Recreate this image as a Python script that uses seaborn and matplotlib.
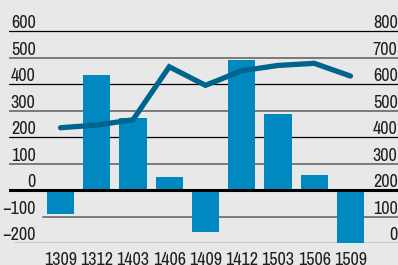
import numpy as np
import pandas as pd
import matplotlib
matplotlib.use("Agg")
import matplotlib.pyplot as plt
import matplotlib.transforms as mtransforms
import seaborn as sns

categories = ["1309", "1312", "1403", "1406", "1409", "1412", "1503", "1506", "1509"]
bar_values = [-90, 435, 270, 50, -160, 490, 285, 55, -200]
line_values = [435, 445, 465, 665, 595, 650, 670, 678, 630]
left_ticks = [600, 500, 400, 300, 200, 100, 0, -100, -200]
right_ticks = [800, 700, 600, 500, 400, 300, 200, 100, 0]

BG = "#e8e8e8"
BAR = "#0088c0"
LINE = "#00658e"
TXT = "#1e1e1e"

sns.set_theme(style="white")
plt.rcParams["font.family"] = ["Archivo Narrow", "DejaVu Sans"]

W, H = 398, 265
fig = plt.figure(figsize=(W / 100, H / 100), dpi=100, facecolor=BG)
ax = fig.add_axes([9 / W, (H - 243) / H, 1 - 9 / W, 243 / H])
ax.set_facecolor(BG)

df = pd.DataFrame({"cat": categories, "bar": bar_values, "line": line_values,
                   "pos": np.arange(len(categories))})

sns.barplot(data=df, x="cat", y="bar", color=BAR, saturation=1, width=0.75,
            linewidth=0, edgecolor="none", ax=ax, zorder=3)
ax.set_xlim(-1.42, 9.31)
ax.set_ylim(-200, 717)

ax2 = ax.twinx()
sns.lineplot(data=df, x="pos", y="line", color=LINE, linewidth=3.8, ax=ax2,
             solid_capstyle="round", solid_joinstyle="miter")
ax2.set_ylim(0, 917)
ax2.set_xlim(-1.42, 9.31)

for a in (ax, ax2):
    for s in a.spines.values():
        s.set_visible(False)
    a.set_xticks([])
    a.set_yticks([])
    a.set_xlabel("")
    a.set_ylabel("")

# gridlines
for v in left_ticks:
    if v == 0:
        ax.axhline(v, color="black", lw=2.2, zorder=4)
    elif v % 200 == 0:
        xmin = 5 / 389 if v == -200 else 0
        ax.axhline(v, xmin=xmin, color="black", lw=0.9, zorder=1)
    else:
        xmin = 34 / 389 if v == -100 else 0
        ax.axhline(v, xmin=xmin, color="#7a7a7a", lw=1.4, zorder=1)

off = mtransforms.ScaledTranslation(0, 3 / 100, fig.dpi_scale_trans)
trans_l = mtransforms.blended_transform_factory(fig.transFigure, ax.transData) + off
for v in left_ticks:
    lbl = str(v).replace("-", "\u2212") if v < 0 else str(v)
    fig.text(35.5 / W, v, lbl, transform=trans_l, ha="right", va="baseline",
             fontsize=13, color=TXT)
trans_r = mtransforms.blended_transform_factory(fig.transFigure, ax2.transData) + off
for v in right_ticks:
    fig.text(397.5 / W, v, str(v), transform=trans_r, ha="right", va="baseline",
             fontsize=13, color=TXT)

trans_x = mtransforms.blended_transform_factory(ax.transData, fig.transFigure)
for i, c in enumerate(categories):
    fig.text(i, (H - 252) / H, c, transform=trans_x, ha="center", va="top",
             fontsize=13, color=TXT)

fig.savefig("out.png", dpi=100, facecolor=BG)
